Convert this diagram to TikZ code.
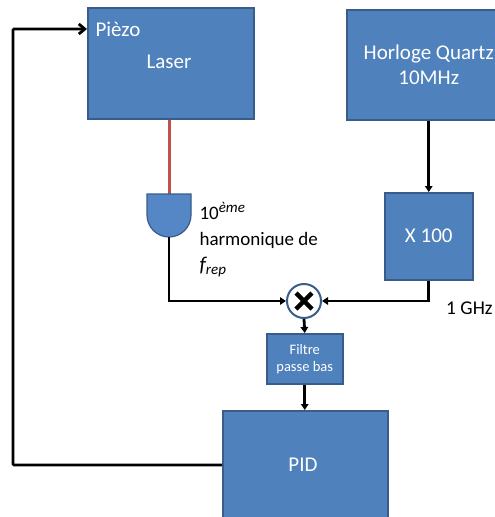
\documentclass[tikz,border=0pt]{standalone}
\usepackage{fontspec}
\setmainfont{Carlito}
\usetikzlibrary{arrows.meta,calc}
\definecolor{boxblue}{HTML}{4F81BD}
\definecolor{boxedge}{HTML}{385D8A}
\definecolor{detblue}{HTML}{5587C6}
\definecolor{redline}{HTML}{C0504D}
\tikzset{
  blk/.style={draw=boxedge, line width=1.5pt, fill=boxblue, text=white, inner sep=0pt},
  conn/.style={line width=2.8pt, black, -{Triangle[length=6pt,width=7.5pt]}},
}
\begin{document}
\begin{tikzpicture}[x=1pt,y=-1pt]
\clip (0,0) rectangle (495,517);
\fill[white] (0,0) rectangle (495,517);
% boxes
\node[blk, minimum width=166pt, minimum height=111pt, anchor=north west] (laser) at (87,7) {};
\node[text=white, font=\fontsize{21}{25}\selectfont] (laserlbl) at (169,62) {Laser};
\node[text=white, font=\fontsize{21}{25}\selectfont, anchor=west] (piezo) at (92,29) {Pièzo};
\node[blk, minimum width=164pt, minimum height=110pt, anchor=north west, align=center, font=\fontsize{21}{25}\selectfont] (quartz) at (346,9) {Horloge Quartz\\10MHz};
\node[blk, minimum width=88pt, minimum height=87pt, anchor=north west, font=\fontsize{21}{25}\selectfont] (x100) at (384,192) {X 100};
\node[blk, minimum width=76pt, minimum height=50pt, anchor=north west, align=center, font=\fontsize{14.5}{17}\selectfont] (filtre) at (266,333) {Filtre\\passe bas};
\node[blk, minimum width=165pt, minimum height=130pt, anchor=north west, font=\fontsize{21}{25}\selectfont] (pid) at (222,410) {};
\node[text=white, font=\fontsize{21}{25}\selectfont] (pidlbl) at (303,465) {PID};
% detector
\coordinate (dettop) at (169,194);
\coordinate (detbot) at (169,237);
\draw[redline, line width=3pt] (laser.south -| dettop) -- (dettop);
\draw[draw=boxedge, line width=1.2pt, fill=detblue] (147,194) -- (191,194) -- (191,215) arc[start angle=0, end angle=180, radius=22] -- cycle;
% mixer
\node[circle, draw=boxedge, line width=2pt, fill=white, minimum size=34pt, inner sep=0pt] (mix) at (304,301) {};
\draw[line width=4.5pt, black] ($(mix.center)+(-8,-8)$) -- ($(mix.center)+(8,8)$);
\draw[line width=4.5pt, black] ($(mix.center)+(-8,8)$) -- ($(mix.center)+(8,-8)$);
% label
\node[anchor=north west, align=left, font=\fontsize{19}{26}\selectfont, text=black] (lbl) at (196,199) {10\textsuperscript{\fontsize{15}{15}\selectfont\itshape ème}\\harmonique de\\{\fontsize{21}{26}\selectfont\itshape f\textsubscript{\fontsize{15}{15}\selectfont rep}}};
\node[anchor=west, font=\fontsize{19.5}{23}\selectfont, text=black, inner xsep=0pt] (ghz) at (446,308) {1 GHz};
% connectors
\draw[conn] (quartz.south -| x100) -- (x100.north);
\draw[conn] (detbot) |- (mix.west);
\draw[conn] (x100.south) |- (mix.east);
\draw[conn] (mix.south) -- (filtre.north);
\draw[conn] (filtre.south) -- (pid.north -| filtre.south);
\draw[line width=2.8pt, black, -{Straight Barb[length=6pt,width=10pt]}, rounded corners=1pt] (pid.west |- pidlbl) -- (13,465) -- (13,29) -- (laser.west |- piezo);
\end{tikzpicture}
\end{document}
